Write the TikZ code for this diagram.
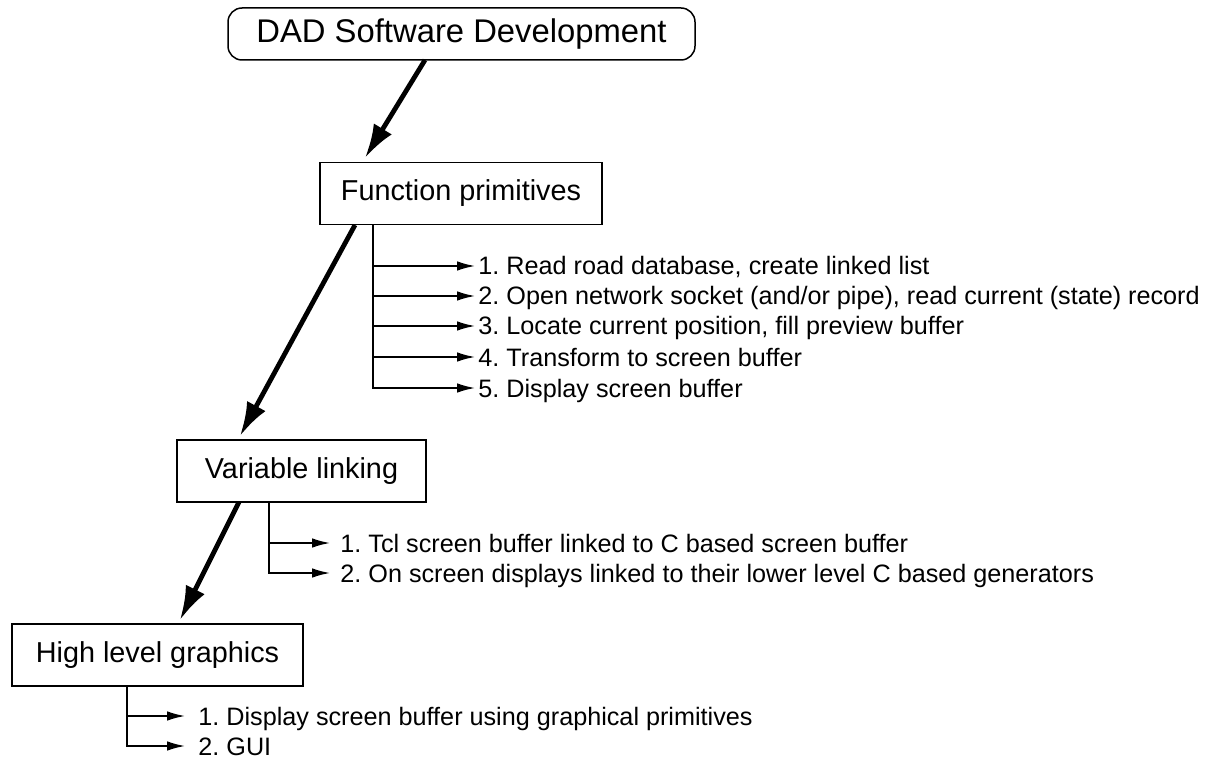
\documentclass[tikz,border=0pt]{standalone}
\usepackage{fontspec}
\setmainfont{Liberation Sans}
\usetikzlibrary{arrows.meta}
\frenchspacing

\begin{document}
\begin{tikzpicture}[x=0.5pt,y=-0.5pt,
	box/.style={draw,line width=0.75pt,inner sep=0pt,minimum height=31pt,font=\fontsize{14.4}{17}\selectfont},
	item/.style={anchor=west,inner sep=0pt,text height=9pt,text depth=0pt,font=\fontsize{12.6}{15}\selectfont},
	bigarrow/.style={line width=2.4pt,-{Latex[length=17pt,width=10.5pt]}},
	smallarrow/.style={line width=0.8pt,-{Latex[length=9pt,width=4.8pt]}}]
		%\draw [help lines] (0,0) grid (1210,759);
		\useasboundingbox (0,0) rectangle (1210,759);
		\node [box, rounded corners=7pt, minimum width=233.5pt, minimum height=26pt, font=\fontsize{16.4}{19}\selectfont] (dad) at (461.5,34) {DAD Software Development};
		\node [box, minimum width=141pt] (fp) at (461,193.5) {Function primitives};
		\node [box, minimum width=124.5pt] (vl) at (301.5,471) {Variable linking};
		\node [box, minimum width=145.5pt] (hlg) at (157.5,655) {High level graphics};
		% thick arrows between the levels
		\coordinate (dadout) at (425,60);
		\coordinate (fpin) at (365,158);
		\coordinate (fpout) at (355,225);
		\coordinate (vlin) at (240,436);
		\coordinate (vlout) at (239,502);
		\coordinate (hlgin) at (180,620);
		\draw [bigarrow] (dadout) -- (fpin);
		\draw [bigarrow] (fpout) -- (vlin);
		\draw [bigarrow] (vlout) -- (hlgin);
		% function primitives
		\node [item] (fp1) at (478,266) {1. Read road database, create linked list};
		\node [item] (fp2) at (478,296) {2. Open network socket (and/or pipe), read current (state) record};
		\node [item] (fp3) at (478,326) {3. Locate current position, fill preview buffer};
		\node [item] (fp4) at (478,357) {4. Transform to screen buffer};
		\node [item] (fp5) at (478,388) {5. Display screen buffer};
		\coordinate (fpbar) at (373,225);
		\draw [smallarrow] (fpbar) |- ([xshift=-1.5pt]fp5.west);
		\draw [smallarrow] (fpbar |- fp1.west) -- ([xshift=-1.5pt]fp1.west);
		\draw [smallarrow] (fpbar |- fp2.west) -- ([xshift=-1.5pt]fp2.west);
		\draw [smallarrow] (fpbar |- fp3.west) -- ([xshift=-1.5pt]fp3.west);
		\draw [smallarrow] (fpbar |- fp4.west) -- ([xshift=-1.5pt]fp4.west);
		% variable linking
		\node [item] (vl1) at (340,543) {1. Tcl screen buffer linked to C based screen buffer};
		\node [item] (vl2) at (340,573) {2. On screen displays linked to their lower level C based generators};
		\coordinate (vlbar) at (269,502);
		\draw [smallarrow] (vlbar) |- ([xshift=-5pt]vl2.west);
		\draw [smallarrow] (vlbar |- vl1.west) -- ([xshift=-5pt]vl1.west);
		% high level graphics
		\node [item] (hlg1) at (198,716) {1. Display screen buffer using graphical primitives};
		\node [item] (hlg2) at (198,746) {2. GUI};
		\coordinate (hlgbar) at (127,686);
		\draw [smallarrow] (hlgbar) |- ([xshift=-6.5pt]hlg2.west);
		\draw [smallarrow] (hlgbar |- hlg1.west) -- ([xshift=-6.5pt]hlg1.west);
	\end{tikzpicture}
\end{document}
